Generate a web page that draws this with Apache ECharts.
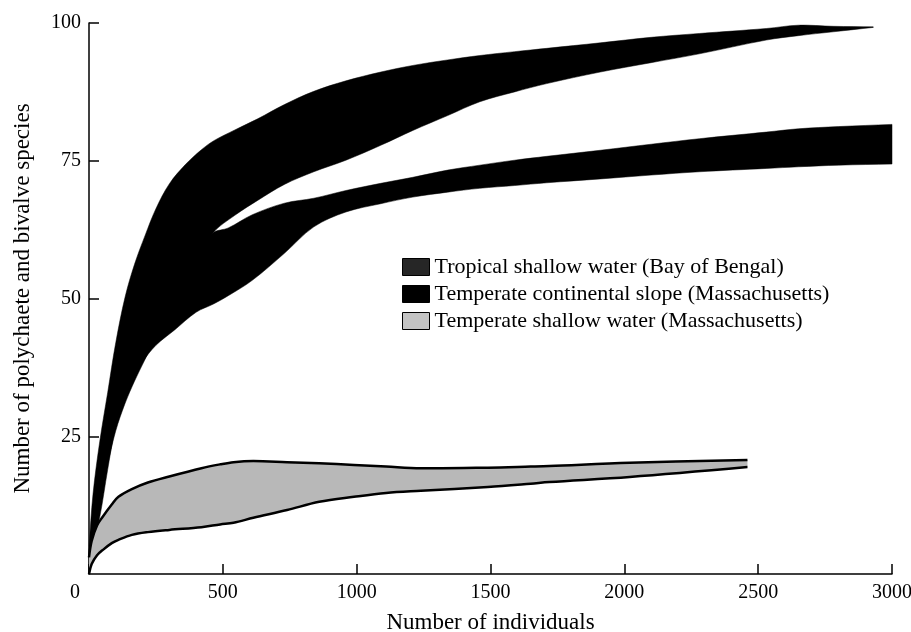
<!DOCTYPE html>
<html>

<head>
    <meta charset="utf-8">
    <script type="text/javascript" src="https://cdn.jsdelivr.net/npm/echarts@6.0.0/dist/echarts.min.js"></script>
    <title>Species accumulation</title>
    <style>
        body { margin: 0; background: #fff; }
    </style>
</head>

<body>
    <div id="container" style="width:911px;height:632px;"></div>
    <script type="text/javascript">
    // band edges (x = individuals, y = species)
    var tropicalX    = [0, 15, 40, 70, 100, 135, 170, 210, 250, 300, 360, 420, 465, 545, 630, 730, 840, 960, 1090, 1210, 1340, 1460, 1590, 1710, 1910, 2100, 2280, 2530, 2650, 2780, 2930];
    var tropicalLow  = [3, 8, 14, 20, 26, 31, 35, 39, 43, 48, 53, 58, 62, 65.1, 67.8, 70.7, 73.0, 75.1, 77.8, 80.5, 83.2, 85.7, 87.5, 89.0, 91.1, 92.8, 94.4, 96.9, 97.7, 98.4, 99.2];
    var tropicalHigh = [5, 14.5, 24, 33, 42, 50.3, 56.2, 61.5, 66.3, 70.8, 74.3, 77, 78.6, 80.6, 82.6, 85.2, 87.6, 89.5, 91.1, 92.3, 93.3, 94.1, 94.8, 95.4, 96.4, 97.4, 98.1, 99.0, 99.6, 99.4, 99.3];

    var slopeX    = [0, 10, 40, 70, 100, 135, 170, 200, 250, 320, 400, 465, 520, 610, 730, 840, 960, 1090, 1210, 1340, 1460, 1590, 1710, 1910, 2100, 2280, 2530, 2650, 2800, 3000];
    var slopeLow  = [1, 4.4, 10.3, 19, 27, 32.8, 36, 38.5, 41.5, 44.3, 47.5, 49, 50.5, 53.3, 58.2, 63.0, 65.7, 67.2, 68.4, 69.3, 70.0, 70.5, 71.0, 71.7, 72.4, 73.0, 73.6, 73.9, 74.2, 74.4];
    var slopeHigh = [4, 8, 17, 24, 30, 35, 40, 43, 48, 53, 59, 62, 62.8, 65.2, 67.3, 68.2, 69.6, 70.9, 72.0, 73.3, 74.2, 75.1, 75.8, 76.9, 78.0, 79.0, 80.2, 80.8, 81.2, 81.6];

    var shallowX    = [0, 10, 30, 50, 85, 110, 160, 220, 300, 420, 490, 540, 614, 740, 860, 990, 1110, 1240, 1490, 1650, 1720, 2020, 2460];
    var shallowLow  = [0, 1.8, 3.4, 4.3, 5.6, 6.2, 7.1, 7.6, 8.0, 8.5, 9.0, 9.3, 10.2, 11.6, 13.1, 14.0, 14.7, 15.1, 15.8, 16.4, 16.7, 17.6, 19.4];
    var shallowHigh = [3, 6, 8.8, 10.3, 12.6, 14, 15.4, 16.6, 17.7, 19.2, 19.9, 20.3, 20.5, 20.3, 20.1, 19.8, 19.5, 19.2, 19.3, 19.5, 19.6, 20.2, 20.7];

    var bandNames = [
        'Tropical shallow water (Bay of Bengal)',
        'Temperate continental slope (Massachusetts)',
        'Temperate shallow water (Massachusetts)'
    ];

    var serif = 'Liberation Serif';
    var SMOOTH = 0.35;

    var myChart = echarts.init(document.getElementById('container'));

    // one band = filled polygon between the lower and upper edge (custom series)
    function band(name, xs, low, high, fill, edgeWidth, z) {
        var rows = [];
        for (var i = 0; i < xs.length; i++) {
            rows.push([xs[i], low[i], high[i]]);
        }
        return {
            name: name,
            type: 'custom',
            z: z,
            itemStyle: { color: fill },
            encode: { x: 0, y: [1, 2] },
            data: rows,
            renderItem: function(params, api) {
                if (params.dataIndex !== 0) return null; // whole band drawn once
                var top = [], bottom = [];
                for (var j = 0; j < xs.length; j++) {
                    top.push(api.coord([xs[j], high[j]]));
                    bottom.push(api.coord([xs[j], low[j]]));
                }
                var n = xs.length;
                // repeat the end corners so the smoothing keeps them sharp
                var outline = [top[0]].concat(top).concat([top[n - 1]])
                    .concat([bottom[n - 1]]).concat(bottom.slice().reverse()).concat([bottom[0]]);
                var children = [{
                    type: 'polygon',
                    shape: { points: outline, smooth: SMOOTH },
                    style: { fill: fill, stroke: edgeWidth ? null : fill, lineWidth: 0.5 }
                }];
                if (edgeWidth) {
                    children.push({
                        type: 'polyline',
                        shape: { points: top, smooth: SMOOTH },
                        style: { fill: null, stroke: '#000', lineWidth: edgeWidth }
                    }, {
                        type: 'polyline',
                        shape: { points: bottom, smooth: SMOOTH },
                        style: { fill: null, stroke: '#000', lineWidth: edgeWidth }
                    });
                }
                return { type: 'group', children: children };
            }
        };
    }

    var option = {
        animation: false,
        grid: { left: 89, right: 19, top: 23, bottom: 58, outerBoundsMode: 'none' },
        legend: {
            orient: 'vertical',
            left: 397,
            top: 251,
            z: 10,
            itemWidth: 27,
            itemHeight: 17,
            itemGap: 5,
            icon: 'rect',
            textStyle: { fontFamily: serif, fontSize: 22, color: '#000' },
            data: [
                { name: bandNames[0], itemStyle: { color: '#262626', borderColor: '#000', borderWidth: 1 } },
                { name: bandNames[1], itemStyle: { color: '#000', borderColor: '#000', borderWidth: 1 } },
                { name: bandNames[2], itemStyle: { color: '#c4c4c4', borderColor: '#000', borderWidth: 1 } }
            ]
        },
        xAxis: {
            type: 'value',
            min: 0,
            max: 3000,
            interval: 500,
            name: 'Number of individuals',
            nameLocation: 'middle',
            nameGap: 37,
            nameTextStyle: { fontFamily: serif, fontSize: 23, color: '#000' },
            axisLine: { lineStyle: { color: '#000', width: 1.5 } },
            axisTick: { inside: true, length: 10, lineStyle: { color: '#000', width: 1.5 } },
            splitLine: { show: false },
            axisLabel: {
                margin: 9,
                fontFamily: serif,
                fontSize: 20,
                color: '#000',
                // the shared origin "0" sits a bit left of the corner
                formatter: function(v) {
                    return v === 0 ? '{o|0}' : String(v);
                },
                rich: {
                    o: { fontFamily: serif, fontSize: 20, color: '#000', padding: [0, 28, 0, 0] }
                }
            }
        },
        yAxis: {
            type: 'value',
            min: 0,
            max: 100,
            interval: 25,
            name: 'Number of polychaete and bivalve species',
            nameLocation: 'middle',
            nameGap: 55,
            nameTextStyle: { fontFamily: serif, fontSize: 23, color: '#000' },
            axisLine: { show: true, lineStyle: { color: '#000', width: 1.5 } },
            axisTick: { show: true, inside: true, length: 10, lineStyle: { color: '#000', width: 1.5 } },
            splitLine: { show: false },
            axisLabel: {
                margin: 8,
                showMinLabel: false,
                fontFamily: serif,
                fontSize: 20,
                color: '#000'
            }
        },
        series: [
            band(bandNames[1], slopeX, slopeLow, slopeHigh, '#000', 0, 2),
            band(bandNames[0], tropicalX, tropicalLow, tropicalHigh, '#000', 0, 3),
            band(bandNames[2], shallowX, shallowLow, shallowHigh, '#b8b8b8', 2.5, 4)
        ]
    };

    myChart.setOption(option);
    </script>
</body>

</html>
